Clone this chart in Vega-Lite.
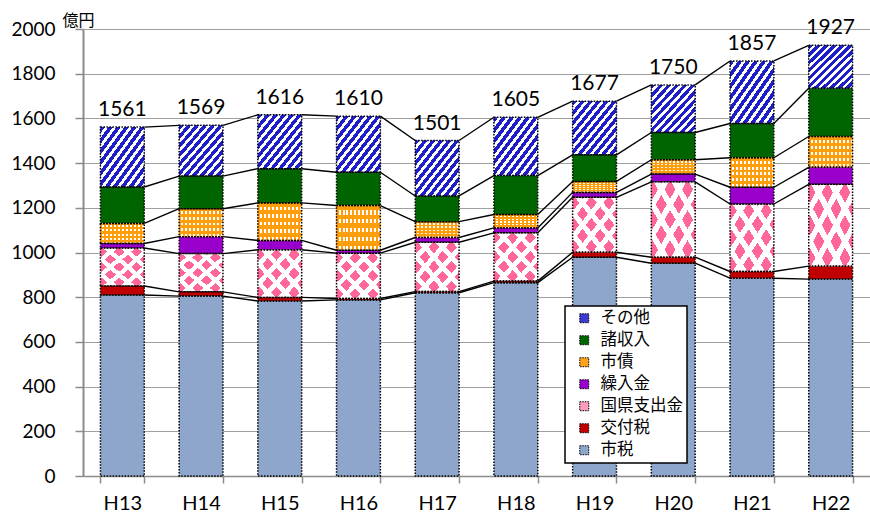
{
  "$schema": "https://vega.github.io/schema/vega-lite/v6.json",
  "autosize": {"type": "none"},
  "width": 787,
  "height": 447,
  "padding": {"left": 83, "top": 29, "right": 0, "bottom": 47},
  "background": "#ffffff",
  "config": {
    "view": {"stroke": null},
    "font": "Lato",
    "axis": {"labelColor": "#000", "labelFont": "Lato", "domainColor": "#8c8c8c", "tickColor": "#8c8c8c", "gridColor": "#a0a0a0"},
    "legend": {"strokeWidth": 1.5}
  },
  "data": {
    "values": [
      {"year": "H13", "item": "市税", "value": 810}, {"year": "H13", "item": "交付税", "value": 40}, {"year": "H13", "item": "国県支出金", "value": 170}, {"year": "H13", "item": "繰入金", "value": 20}, {"year": "H13", "item": "市債", "value": 90}, {"year": "H13", "item": "諸収入", "value": 163}, {"year": "H13", "item": "その他", "value": 268},
      {"year": "H14", "item": "市税", "value": 805}, {"year": "H14", "item": "交付税", "value": 19}, {"year": "H14", "item": "国県支出金", "value": 171}, {"year": "H14", "item": "繰入金", "value": 76}, {"year": "H14", "item": "市債", "value": 125}, {"year": "H14", "item": "諸収入", "value": 146}, {"year": "H14", "item": "その他", "value": 227},
      {"year": "H15", "item": "市税", "value": 783}, {"year": "H15", "item": "交付税", "value": 16}, {"year": "H15", "item": "国県支出金", "value": 213}, {"year": "H15", "item": "繰入金", "value": 42}, {"year": "H15", "item": "市債", "value": 168}, {"year": "H15", "item": "諸収入", "value": 153}, {"year": "H15", "item": "その他", "value": 241},
      {"year": "H16", "item": "市税", "value": 788}, {"year": "H16", "item": "交付税", "value": 6}, {"year": "H16", "item": "国県支出金", "value": 203}, {"year": "H16", "item": "繰入金", "value": 13}, {"year": "H16", "item": "市債", "value": 200}, {"year": "H16", "item": "諸収入", "value": 149}, {"year": "H16", "item": "その他", "value": 251},
      {"year": "H17", "item": "市税", "value": 820}, {"year": "H17", "item": "交付税", "value": 5}, {"year": "H17", "item": "国県支出金", "value": 221}, {"year": "H17", "item": "繰入金", "value": 21}, {"year": "H17", "item": "市債", "value": 71}, {"year": "H17", "item": "諸収入", "value": 115}, {"year": "H17", "item": "その他", "value": 248},
      {"year": "H18", "item": "市税", "value": 865}, {"year": "H18", "item": "交付税", "value": 7}, {"year": "H18", "item": "国県支出金", "value": 216}, {"year": "H18", "item": "繰入金", "value": 22}, {"year": "H18", "item": "市債", "value": 60}, {"year": "H18", "item": "諸収入", "value": 174}, {"year": "H18", "item": "その他", "value": 261},
      {"year": "H19", "item": "市税", "value": 979}, {"year": "H19", "item": "交付税", "value": 22}, {"year": "H19", "item": "国県支出金", "value": 246}, {"year": "H19", "item": "繰入金", "value": 22}, {"year": "H19", "item": "市債", "value": 49}, {"year": "H19", "item": "諸収入", "value": 119}, {"year": "H19", "item": "その他", "value": 240},
      {"year": "H20", "item": "市税", "value": 952}, {"year": "H20", "item": "交付税", "value": 27}, {"year": "H20", "item": "国県支出金", "value": 337}, {"year": "H20", "item": "繰入金", "value": 35}, {"year": "H20", "item": "市債", "value": 64}, {"year": "H20", "item": "諸収入", "value": 122}, {"year": "H20", "item": "その他", "value": 213},
      {"year": "H21", "item": "市税", "value": 885}, {"year": "H21", "item": "交付税", "value": 30}, {"year": "H21", "item": "国県支出金", "value": 302}, {"year": "H21", "item": "繰入金", "value": 75}, {"year": "H21", "item": "市債", "value": 132}, {"year": "H21", "item": "諸収入", "value": 153}, {"year": "H21", "item": "その他", "value": 280},
      {"year": "H22", "item": "市税", "value": 881}, {"year": "H22", "item": "交付税", "value": 58}, {"year": "H22", "item": "国県支出金", "value": 366}, {"year": "H22", "item": "繰入金", "value": 76}, {"year": "H22", "item": "市債", "value": 138}, {"year": "H22", "item": "諸収入", "value": 216}, {"year": "H22", "item": "その他", "value": 192}
    ]
  },
  "transform": [
    {"calculate": "indexof(['市税','交付税','国県支出金','繰入金','市債','諸収入','その他'], datum.item)", "as": "rank"},
    {"stack": "value", "groupby": ["year"], "sort": [{"field": "rank", "order": "ascending"}], "as": ["y0", "y1"]}
  ],
  "layer": [
    {
      "mark": {"type": "bar"},
      "encoding": {
        "x": {"field": "year", "type": "nominal", "sort": null, "title": null,
          "scale": {"paddingInner": 0.443, "paddingOuter": 0.2215},
          "axis": {"title": null, "labelAngle": 0, "labelFontSize": 20, "labelPadding": 10, "tickBand": "extent", "tickSize": 7, "domainWidth": 1.5, "tickWidth": 1.5, "grid": false}},
        "y": {"field": "y1", "type": "quantitative", "title": "億円",
          "scale": {"domain": [0, 2000], "nice": false},
          "axis": {"title": "億円", "titleFont": "Noto Sans CJK JP", "titleFontSize": 16, "titleFontWeight": "normal", "titleAngle": 0, "titleAlign": "left", "titleBaseline": "alphabetic", "titleX": -21, "titleY": -4, "titleColor": "#000", "format": "d",
            "values": [0, 200, 400, 600, 800, 1000, 1200, 1400, 1600, 1800, 2000], "labelFontSize": 19, "labelPadding": 20, "tickSize": 8, "tickWidth": 1.5, "domainWidth": 2, "gridWidth": 1.2}},
        "y2": {"field": "y0"},
        "color": {"field": "item", "type": "nominal",
          "scale": {"domain": ["その他", "諸収入", "市債", "繰入金", "国県支出金", "交付税", "市税"],
                    "range": ["#3b3bd4", "#006400", "#ffa31f", "#9900cc", "#ff9cbd", "#c00000", "#8fa6cc"]},
          "legend": {"orient": "none", "legendX": 482, "legendY": 277, "title": null, "labelFont": "Noto Sans CJK JP", "labelFontSize": 16.5, "labelColor": "#000", "symbolType": "square", "symbolSize": 80, "symbolStrokeColor": "#000", "symbolStrokeWidth": 1, "symbolDash": [1.5, 1], "strokeColor": "#000", "fillColor": "#fff", "padding": 4, "rowPadding": 5, "symbolOffset": 7, "labelOffset": 8}}
      }
    },
    {
      "transform": [{"filter": "datum.item == 'その他'"}],
      "mark": {"type": "bar", "fill": {"gradient": "linear", "x1": 0, "y1": 0, "x2": 1, "y2": 1, "stops": [
        {"offset": 0, "color": "#1f1fc9"}, {"offset": 0.05, "color": "#1f1fc9"}, {"offset": 0.05, "color": "#ffffff"}, {"offset": 0.0909, "color": "#ffffff"},
        {"offset": 0.0909, "color": "#1f1fc9"}, {"offset": 0.1409, "color": "#1f1fc9"}, {"offset": 0.1409, "color": "#ffffff"}, {"offset": 0.1818, "color": "#ffffff"},
        {"offset": 0.1818, "color": "#1f1fc9"}, {"offset": 0.2318, "color": "#1f1fc9"}, {"offset": 0.2318, "color": "#ffffff"}, {"offset": 0.2727, "color": "#ffffff"},
        {"offset": 0.2727, "color": "#1f1fc9"}, {"offset": 0.3227, "color": "#1f1fc9"}, {"offset": 0.3227, "color": "#ffffff"}, {"offset": 0.3636, "color": "#ffffff"},
        {"offset": 0.3636, "color": "#1f1fc9"}, {"offset": 0.4136, "color": "#1f1fc9"}, {"offset": 0.4136, "color": "#ffffff"}, {"offset": 0.4545, "color": "#ffffff"},
        {"offset": 0.4545, "color": "#1f1fc9"}, {"offset": 0.5045, "color": "#1f1fc9"}, {"offset": 0.5045, "color": "#ffffff"}, {"offset": 0.5455, "color": "#ffffff"},
        {"offset": 0.5455, "color": "#1f1fc9"}, {"offset": 0.5955, "color": "#1f1fc9"}, {"offset": 0.5955, "color": "#ffffff"}, {"offset": 0.6364, "color": "#ffffff"},
        {"offset": 0.6364, "color": "#1f1fc9"}, {"offset": 0.6864, "color": "#1f1fc9"}, {"offset": 0.6864, "color": "#ffffff"}, {"offset": 0.7273, "color": "#ffffff"},
        {"offset": 0.7273, "color": "#1f1fc9"}, {"offset": 0.7773, "color": "#1f1fc9"}, {"offset": 0.7773, "color": "#ffffff"}, {"offset": 0.8182, "color": "#ffffff"},
        {"offset": 0.8182, "color": "#1f1fc9"}, {"offset": 0.8682, "color": "#1f1fc9"}, {"offset": 0.8682, "color": "#ffffff"}, {"offset": 0.9091, "color": "#ffffff"},
        {"offset": 0.9091, "color": "#1f1fc9"}, {"offset": 0.9591, "color": "#1f1fc9"}, {"offset": 0.9591, "color": "#ffffff"}, {"offset": 1, "color": "#ffffff"}
      ]}},
      "encoding": {
        "x": {"field": "year", "type": "nominal", "sort": null, "title": null},
        "y": {"field": "y1", "type": "quantitative", "title": "億円"},
        "y2": {"field": "y0"}
      }
    },
    {
      "transform": [{"filter": "datum.item == '国県支出金'"}],
      "mark": {"type": "bar", "fill": {"gradient": "linear", "x1": 0, "y1": 0, "x2": 1, "y2": 1, "stops": [
        {"offset": 0, "color": "#ff6699"}, {"offset": 0.126, "color": "#ff6699"}, {"offset": 0.126, "color": "#ffffff"}, {"offset": 0.2, "color": "#ffffff"},
        {"offset": 0.2, "color": "#ff6699"}, {"offset": 0.326, "color": "#ff6699"}, {"offset": 0.326, "color": "#ffffff"}, {"offset": 0.4, "color": "#ffffff"},
        {"offset": 0.4, "color": "#ff6699"}, {"offset": 0.526, "color": "#ff6699"}, {"offset": 0.526, "color": "#ffffff"}, {"offset": 0.6, "color": "#ffffff"},
        {"offset": 0.6, "color": "#ff6699"}, {"offset": 0.726, "color": "#ff6699"}, {"offset": 0.726, "color": "#ffffff"}, {"offset": 0.8, "color": "#ffffff"},
        {"offset": 0.8, "color": "#ff6699"}, {"offset": 0.926, "color": "#ff6699"}, {"offset": 0.926, "color": "#ffffff"}, {"offset": 1, "color": "#ffffff"}
      ]}},
      "encoding": {
        "x": {"field": "year", "type": "nominal", "sort": null, "title": null},
        "y": {"field": "y1", "type": "quantitative", "title": "億円"},
        "y2": {"field": "y0"}
      }
    },
    {
      "transform": [{"filter": "datum.item == '国県支出金'"}],
      "mark": {"type": "bar", "fill": {"gradient": "linear", "x1": 0, "y1": 1, "x2": 1, "y2": 0, "stops": [
        {"offset": 0, "color": "rgba(255,255,255,0)"}, {"offset": 0.126, "color": "rgba(255,255,255,0)"}, {"offset": 0.126, "color": "#ffffff"}, {"offset": 0.2, "color": "#ffffff"},
        {"offset": 0.2, "color": "rgba(255,255,255,0)"}, {"offset": 0.326, "color": "rgba(255,255,255,0)"}, {"offset": 0.326, "color": "#ffffff"}, {"offset": 0.4, "color": "#ffffff"},
        {"offset": 0.4, "color": "rgba(255,255,255,0)"}, {"offset": 0.526, "color": "rgba(255,255,255,0)"}, {"offset": 0.526, "color": "#ffffff"}, {"offset": 0.6, "color": "#ffffff"},
        {"offset": 0.6, "color": "rgba(255,255,255,0)"}, {"offset": 0.726, "color": "rgba(255,255,255,0)"}, {"offset": 0.726, "color": "#ffffff"}, {"offset": 0.8, "color": "#ffffff"},
        {"offset": 0.8, "color": "rgba(255,255,255,0)"}, {"offset": 0.926, "color": "rgba(255,255,255,0)"}, {"offset": 0.926, "color": "#ffffff"}, {"offset": 1, "color": "#ffffff"}
      ]}},
      "encoding": {
        "x": {"field": "year", "type": "nominal", "sort": null, "title": null},
        "y": {"field": "y1", "type": "quantitative", "title": "億円"},
        "y2": {"field": "y0"}
      }
    },
    {
      "transform": [{"filter": "datum.item == '市債'"}],
      "mark": {"type": "bar", "fill": {"gradient": "linear", "x1": 0, "y1": 0, "x2": 1, "y2": 0, "stops": [
        {"offset": 0, "color": "#ff9e0d"}, {"offset": 0.0455, "color": "#ff9e0d"}, {"offset": 0.0455, "color": "#ffffff"}, {"offset": 0.0909, "color": "#ffffff"},
        {"offset": 0.0909, "color": "#ff9e0d"}, {"offset": 0.1364, "color": "#ff9e0d"}, {"offset": 0.1364, "color": "#ffffff"}, {"offset": 0.1818, "color": "#ffffff"},
        {"offset": 0.1818, "color": "#ff9e0d"}, {"offset": 0.2273, "color": "#ff9e0d"}, {"offset": 0.2273, "color": "#ffffff"}, {"offset": 0.2727, "color": "#ffffff"},
        {"offset": 0.2727, "color": "#ff9e0d"}, {"offset": 0.3182, "color": "#ff9e0d"}, {"offset": 0.3182, "color": "#ffffff"}, {"offset": 0.3636, "color": "#ffffff"},
        {"offset": 0.3636, "color": "#ff9e0d"}, {"offset": 0.4091, "color": "#ff9e0d"}, {"offset": 0.4091, "color": "#ffffff"}, {"offset": 0.4545, "color": "#ffffff"},
        {"offset": 0.4545, "color": "#ff9e0d"}, {"offset": 0.5, "color": "#ff9e0d"}, {"offset": 0.5, "color": "#ffffff"}, {"offset": 0.5455, "color": "#ffffff"},
        {"offset": 0.5455, "color": "#ff9e0d"}, {"offset": 0.5909, "color": "#ff9e0d"}, {"offset": 0.5909, "color": "#ffffff"}, {"offset": 0.6364, "color": "#ffffff"},
        {"offset": 0.6364, "color": "#ff9e0d"}, {"offset": 0.6818, "color": "#ff9e0d"}, {"offset": 0.6818, "color": "#ffffff"}, {"offset": 0.7273, "color": "#ffffff"},
        {"offset": 0.7273, "color": "#ff9e0d"}, {"offset": 0.7727, "color": "#ff9e0d"}, {"offset": 0.7727, "color": "#ffffff"}, {"offset": 0.8182, "color": "#ffffff"},
        {"offset": 0.8182, "color": "#ff9e0d"}, {"offset": 0.8636, "color": "#ff9e0d"}, {"offset": 0.8636, "color": "#ffffff"}, {"offset": 0.9091, "color": "#ffffff"},
        {"offset": 0.9091, "color": "#ff9e0d"}, {"offset": 0.9545, "color": "#ff9e0d"}, {"offset": 0.9545, "color": "#ffffff"}, {"offset": 1, "color": "#ffffff"}
      ]}},
      "encoding": {
        "x": {"field": "year", "type": "nominal", "sort": null, "title": null},
        "y": {"field": "y1", "type": "quantitative", "title": "億円"},
        "y2": {"field": "y0"}
      }
    },
    {
      "transform": [{"filter": "datum.item == '市債'"}],
      "mark": {"type": "bar", "fill": {"gradient": "linear", "x1": 0, "y1": 0, "x2": 0, "y2": 1, "stops": [
        {"offset": 0, "color": "#ff9e0d"}, {"offset": 0.1, "color": "#ff9e0d"}, {"offset": 0.1, "color": "rgba(255,255,255,0)"}, {"offset": 0.2, "color": "rgba(255,255,255,0)"},
        {"offset": 0.2, "color": "#ff9e0d"}, {"offset": 0.3, "color": "#ff9e0d"}, {"offset": 0.3, "color": "rgba(255,255,255,0)"}, {"offset": 0.4, "color": "rgba(255,255,255,0)"},
        {"offset": 0.4, "color": "#ff9e0d"}, {"offset": 0.5, "color": "#ff9e0d"}, {"offset": 0.5, "color": "rgba(255,255,255,0)"}, {"offset": 0.6, "color": "rgba(255,255,255,0)"},
        {"offset": 0.6, "color": "#ff9e0d"}, {"offset": 0.7, "color": "#ff9e0d"}, {"offset": 0.7, "color": "rgba(255,255,255,0)"}, {"offset": 0.8, "color": "rgba(255,255,255,0)"},
        {"offset": 0.8, "color": "#ff9e0d"}, {"offset": 0.9, "color": "#ff9e0d"}, {"offset": 0.9, "color": "rgba(255,255,255,0)"}, {"offset": 1, "color": "rgba(255,255,255,0)"}
      ]}},
      "encoding": {
        "x": {"field": "year", "type": "nominal", "sort": null, "title": null},
        "y": {"field": "y1", "type": "quantitative", "title": "億円"},
        "y2": {"field": "y0"}
      }
    },
    {
      "mark": {"type": "bar", "fill": "transparent", "stroke": "#000000", "strokeWidth": 1.5, "strokeDash": [1.5, 1.5]},
      "encoding": {
        "x": {"field": "year", "type": "nominal", "sort": null, "title": null},
        "y": {"field": "y1", "type": "quantitative", "title": "億円"},
        "y2": {"field": "y0"}
      }
    },
    {
      "transform": [
        {"window": [{"op": "lead", "field": "y1", "as": "nextY"}, {"op": "lead", "field": "year", "as": "nextYear"}], "groupby": ["item"], "sort": [{"field": "year", "order": "ascending"}]},
        {"filter": "datum.nextYear != null"}
      ],
      "mark": {"type": "rule", "color": "#000000", "strokeWidth": 1.4},
      "encoding": {
        "x": {"field": "year", "type": "nominal", "sort": null, "bandPosition": 1, "title": null},
        "x2": {"field": "nextYear", "bandPosition": 0},
        "y": {"field": "y1", "type": "quantitative", "title": "億円"},
        "y2": {"field": "nextY"}
      }
    },
    {
      "transform": [{"aggregate": [{"op": "sum", "field": "value", "as": "total"}], "groupby": ["year"]}],
      "mark": {"type": "text", "font": "Lato", "fontSize": 21, "color": "#000000", "baseline": "alphabetic", "dy": -11},
      "encoding": {
        "x": {"field": "year", "type": "nominal", "sort": null, "title": null},
        "y": {"field": "total", "type": "quantitative", "title": "億円"},
        "text": {"field": "total", "type": "quantitative"}
      }
    }
  ]
}
